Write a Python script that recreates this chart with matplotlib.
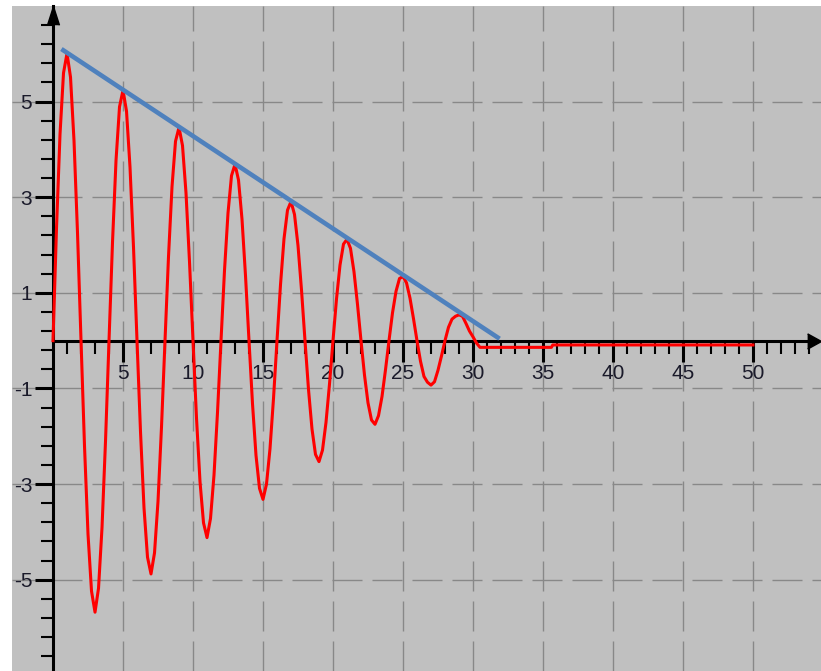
import matplotlib
matplotlib.use("Agg")
import matplotlib.pyplot as plt
from matplotlib.ticker import FixedLocator, FixedFormatter

plt.rcParams["font.family"] = ["Liberation Sans", "DejaVu Sans"]

# red wave, every quarter unit from x=0 to x=30.5
wave_y = [
    0, 2.36, 4.32, 5.60, 6.01, 5.51, 4.18, 2.25,
    0, -2.21, -4.05, -5.24, -5.68, -5.18, -3.91, -2.10,
    0, 2.06, 3.77, 4.89, 5.24, 4.80, 3.63, 1.95,
    0, -1.91, -3.50, -4.53, -4.88, -4.44, -3.36, -1.80,
    0, 1.76, 3.22, 4.17, 4.46, 4.08, 3.09, 1.65,
    0, -1.62, -2.95, -3.81, -4.12, -3.72, -2.81, -1.50,
    0, 1.47, 2.67, 3.45, 3.69, 3.36, 2.54, 1.36,
    0, -1.32, -2.40, -3.09, -3.32, -3.00, -2.26, -1.21,
    0, 1.17, 2.13, 2.73, 2.91, 2.64, 1.99, 1.06,
    0, -1.02, -1.85, -2.38, -2.53, -2.29, -1.71, -0.91,
    0, 0.87, 1.58, 2.02, 2.12, 1.93, 1.44, 0.76,
    0, -0.72, -1.30, -1.66, -1.75, -1.57, -1.17, -0.61,
    0, 0.58, 1.03, 1.30, 1.34, 1.21, 0.89, 0.46,
    0, -0.43, -0.75, -0.87, -0.93, -0.86, -0.62, -0.32,
    0, 0.28, 0.45, 0.51, 0.54, 0.51, 0.36, 0.20,
    0.08, -0.05, -0.14,
]
wave_x = [i * 0.25 for i in range(len(wave_y))]

# flat tail after the wave dies out
tail_x = [35.6, 35.7, 50.0]
tail_y = [-0.14, -0.09, -0.09]

# blue envelope line
env_x = [0.6, 31.9]
env_y = [6.1, 0.04]

x_major = [5, 10, 15, 20, 25, 30, 35, 40, 45, 50]
x_labels = ["5", "10", "15", "20", "25", "30", "35", "40", "45", "50"]
x_minor = [v for v in range(1, 55) if v % 5 != 0]

y_major = [-5, -3, -1, 1, 3, 5]
y_labels = ["-5", "-3", "-1", "1", "3", "5"]
y_minor = [round(m + d, 1) for m in [-7, -5, -3, -1, 1, 3, 5]
           for d in (0.4, 0.8, 1.2, 1.6) if -6.9 < m + d < 6.9]

fig = plt.figure(figsize=(8.21, 6.71), dpi=100)
ax = fig.add_axes([12 / 821, 0, 809 / 821, 665 / 671])
ax.set_facecolor("#c0c0c0")
ax.set_xlim(-2.93, 54.86)
ax.set_ylim(-6.91, 7.0)

ax.plot(wave_x + tail_x, wave_y + tail_y, color="#ff0000", lw=2.2,
        zorder=3, solid_joinstyle="round")
ax.plot(env_x, env_y, color="#4f81bd", lw=3.3, zorder=4,
        solid_capstyle="butt")

# axes through the origin
for side in ["top", "right"]:
    ax.spines[side].set_visible(False)
ax.spines["left"].set_position(("data", 0))
ax.spines["bottom"].set_position(("data", 0))
ax.spines["bottom"].set_bounds(0, 54.5)
for side in ["left", "bottom"]:
    ax.spines[side].set_linewidth(2.2)
    ax.spines[side].set_color("black")

ax.plot(0, 1, marker=[(-0.32, -1), (0, 0), (0.32, -1)], ms=27, color="black",
        transform=ax.get_xaxis_transform(), clip_on=False, zorder=5)
ax.plot(1, 0, marker=[(-1, -0.55), (0, 0), (-1, 0.55)], ms=20, color="black",
        transform=ax.get_yaxis_transform(), clip_on=False, zorder=5)

ax.xaxis.set_major_locator(FixedLocator(x_major))
ax.xaxis.set_major_formatter(FixedFormatter(x_labels))
ax.xaxis.set_minor_locator(FixedLocator(x_minor))
ax.yaxis.set_major_locator(FixedLocator(y_major))
ax.yaxis.set_major_formatter(FixedFormatter(y_labels))
ax.yaxis.set_minor_locator(FixedLocator(y_minor))

ax.tick_params(axis="x", which="major", direction="out", length=15, width=2.2,
               labelsize=15, pad=2, colors="black", labelcolor="#1a1a2a")
ax.tick_params(axis="x", which="minor", direction="out", length=9, width=1.5)
ax.tick_params(axis="y", which="major", direction="out", length=13, width=2.2,
               labelsize=15, pad=2, colors="black", labelcolor="#1a1a2a")
ax.tick_params(axis="y", which="minor", direction="out", length=9, width=1.5)

ax.grid(True, which="major", color="#888888", lw=1.0,
        linestyle=(0, (21.6, 7.2)))
ax.set_axisbelow(True)

fig.savefig("out.png", dpi=100, facecolor="white")
